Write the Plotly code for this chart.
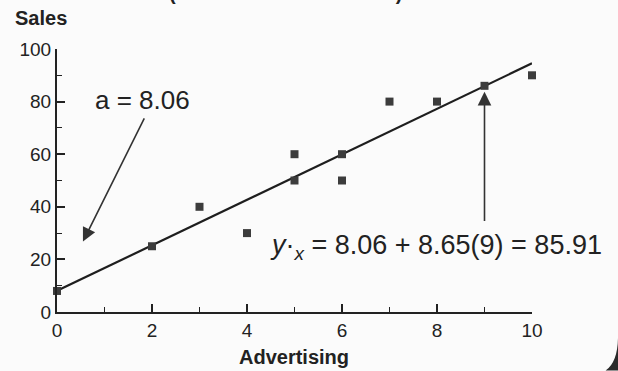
import plotly.graph_objects as go

# Data
advertising = [0, 2, 3, 4, 5, 5, 6, 6, 7, 8, 9, 10]
sales = [8, 25, 40, 30, 60, 50, 60, 50, 80, 80, 86, 90]
fit_x = [0, 10]
fit_y = [8.06, 94.56]
x_ticks = [0, 2, 4, 6, 8, 10]
y_ticks = [0, 20, 40, 60, 80, 100]

ink = "#222222"
fig = go.Figure()
fig.add_trace(go.Scatter(x=fit_x, y=fit_y, mode="lines",
                         line=dict(color="#1e1e1e", width=2.2),
                         cliponaxis=False, hoverinfo="skip"))
fig.add_trace(go.Scatter(x=advertising, y=sales, mode="markers",
                         marker=dict(symbol="square", size=8, color="#3c3c3c"),
                         cliponaxis=False))

font = "Liberation Sans, Arial, sans-serif"
ann = []
# intercept label and arrow
ann.append(dict(x=1.80, y=80.6, xref="x", yref="y", text="a = 8.06", showarrow=False,
                font=dict(size=26, color=ink, family=font)))
ann.append(dict(x=0.547, y=26.8, ax=1.853, ay=74.2, xref="x", yref="y", axref="x", ayref="y",
                text="", showarrow=True, arrowhead=2, arrowsize=1.7, arrowwidth=1.6,
                arrowcolor="#333333"))
# prediction label and arrow
ann.append(dict(x=7.98, y=24.6, xref="x", yref="y",
                text="<i>y</i>·<sub><i>x</i></sub> = 8.06 + 8.65(9) = 85.91", showarrow=False,
                font=dict(size=27, color=ink, family=font)))
ann.append(dict(x=9, y=83.7, ax=9, ay=34.0, xref="x", yref="y", axref="x", ayref="y",
                text="", showarrow=True, arrowhead=2, arrowsize=1.7, arrowwidth=1.6,
                arrowcolor="#333333"))
# axis titles
ann.append(dict(x=-0.093, y=1, xref="paper", yref="paper", xanchor="left", yanchor="middle",
                yshift=31, text="<b>Sales</b>", showarrow=False,
                font=dict(size=20, color=ink, family=font)))
ann.append(dict(x=0.499, y=0, xref="paper", yref="paper", xanchor="center", yanchor="top",
                yshift=-32, text="<b>Advertising</b>", showarrow=False,
                font=dict(size=20, color=ink, family=font)))
# cut-off subtitle at the top
ann.append(dict(x=(285 - 57) / 475, y=1, xref="paper", yref="paper", xanchor="center",
                yanchor="bottom", yshift=43, text="<b>(in thousands of dollars)</b>",
                showarrow=False, font=dict(size=20, color=ink, family=font)))

axis_common = dict(showline=True, linecolor=ink, linewidth=2, ticks="inside", ticklen=8,
                   tickwidth=1.5, tickcolor=ink, showgrid=False, zeroline=False,
                   tickfont=dict(size=19, color="#222222", family=font), mirror=False)

# dark page-corner edge seen at the bottom right of the scan
corner = dict(type="path", xref="paper", yref="paper",
              path="M 1.1811,-0.09 Q 1.1811,-0.19 1.155,-0.222 L 1.1811,-0.222 Z",
              fillcolor="#2a2a2a", line=dict(width=0), layer="above")

fig.update_layout(
    width=618, height=371,
    margin=dict(l=57, r=86, t=49, b=59),
    paper_bgcolor="#fbfbfb", plot_bgcolor="#fbfbfb",
    showlegend=False,
    annotations=ann,
    shapes=[corner],
    xaxis=dict(range=[0, 10], tickvals=x_ticks, ticktext=[str(v) for v in x_ticks],
               minor=dict(dtick=1, ticks="inside", ticklen=5, tickcolor=ink, tickwidth=1.2),
               **axis_common),
    yaxis=dict(range=[0, 100], tickvals=y_ticks, ticktext=[str(v) for v in y_ticks],
               minor=dict(dtick=10, ticks="inside", ticklen=5, tickcolor=ink, tickwidth=1.2),
               **axis_common),
)

fig.write_html("out.html", config={"displayModeBar": False},
               post_script="document.body.style.margin='0';")
